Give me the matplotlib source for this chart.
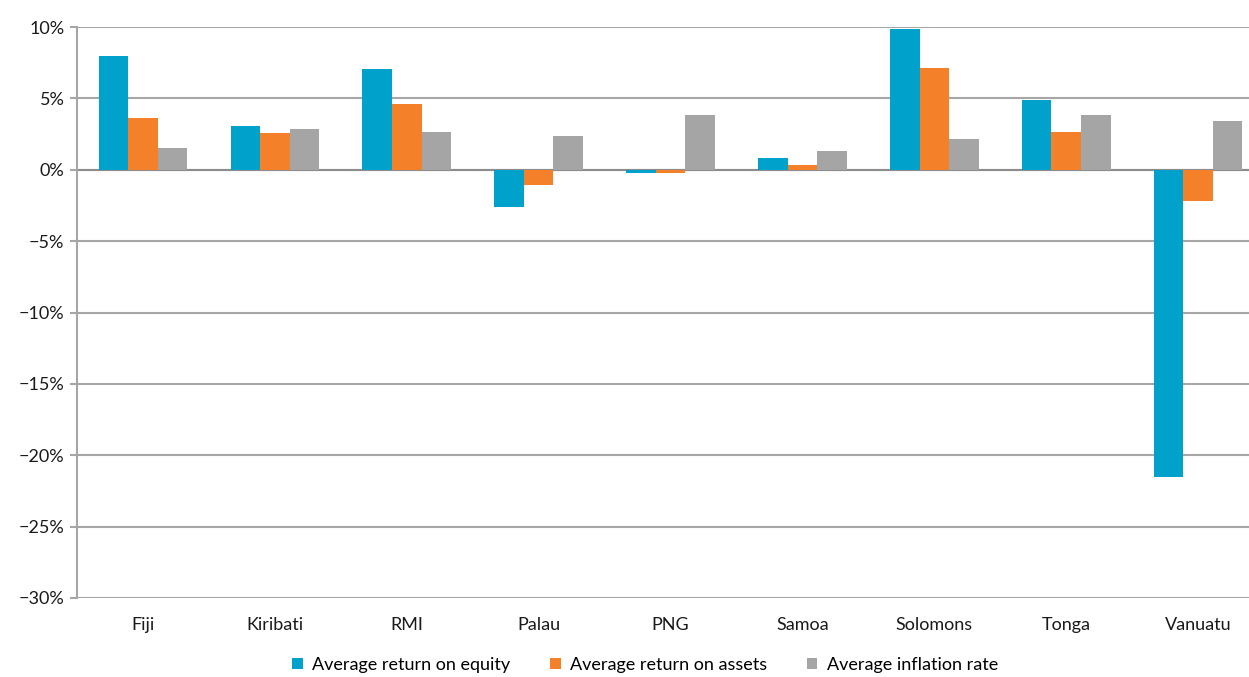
import matplotlib
matplotlib.use("Agg")
import matplotlib.pyplot as plt
import numpy as np
from matplotlib.ticker import FuncFormatter
from matplotlib.patches import Patch

countries = ["Fiji", "Kiribati", "RMI", "Palau", "PNG", "Samoa", "Solomons", "Tonga", "Vanuatu"]
roe = [8.0, 3.05, 7.05, -2.6, -0.2, 0.8, 9.85, 4.9, -21.5]
roa = [3.6, 2.55, 4.6, -1.1, -0.25, 0.3, 7.15, 2.65, -2.2]
inflation = [1.5, 2.85, 2.65, 2.35, 3.85, 1.3, 2.15, 3.85, 3.4]
series_names = ["Average return on equity", "Average return on assets", "Average inflation rate"]
colors = ["#00A2CB", "#F48029", "#A5A5A5"]
yticks = [10, 5, 0, -5, -10, -15, -20, -25, -30]

plt.rcParams["font.family"] = ["Lato", "DejaVu Sans"]

fig = plt.figure(figsize=(12.49, 6.77), dpi=100)
ax = fig.add_axes([77 / 1249, 1 - 598 / 677, (1249 - 77) / 1249, (598 - 27) / 677])

x = np.arange(len(countries))
w = 0.224
for i, (vals, c) in enumerate(zip([roe, roa, inflation], colors)):
    ax.bar(x + (i - 1) * w, vals, width=w, color=c, zorder=3, linewidth=0)

# category slots slightly wider than the axes allows, so the last group sits near the right edge
ax.set_xlim(-0.5, 8.386)
ax.set_ylim(-30, 10)
ax.set_yticks(yticks)
ax.yaxis.set_major_formatter(FuncFormatter(lambda v, p: f"{int(v)}%".replace("-", "\u2212")))
ax.set_xticks(x)
ax.set_xticklabels(countries)

ax.grid(axis="y", color="#A6A6A6", linewidth=1.5, zorder=0)
ax.axhline(0, color="#8C8C8C", linewidth=1.5, zorder=2)
for s in ["top", "right", "bottom"]:
    ax.spines[s].set_visible(False)
ax.spines["left"].set_color("#A6A6A6")
ax.spines["left"].set_linewidth(1.5)
ax.tick_params(axis="y", length=5, width=1.5, color="#A6A6A6", labelsize=13, pad=4)
ax.tick_params(axis="x", length=0, labelsize=13, pad=14)
for lbl in ax.get_yticklabels() + ax.get_xticklabels():
    lbl.set_color("#1a1a1a")

handles = [Patch(facecolor=c, edgecolor="none", label=n) for c, n in zip(colors, series_names)]
fig.legend(handles=handles, loc="center", bbox_to_anchor=(645 / 1249, 1 - 665 / 677),
           ncol=3, frameon=False, fontsize=13, handlelength=0.6, handleheight=0.6,
           handletextpad=0.5, columnspacing=2.2)

fig.savefig("out.png", dpi=100)
